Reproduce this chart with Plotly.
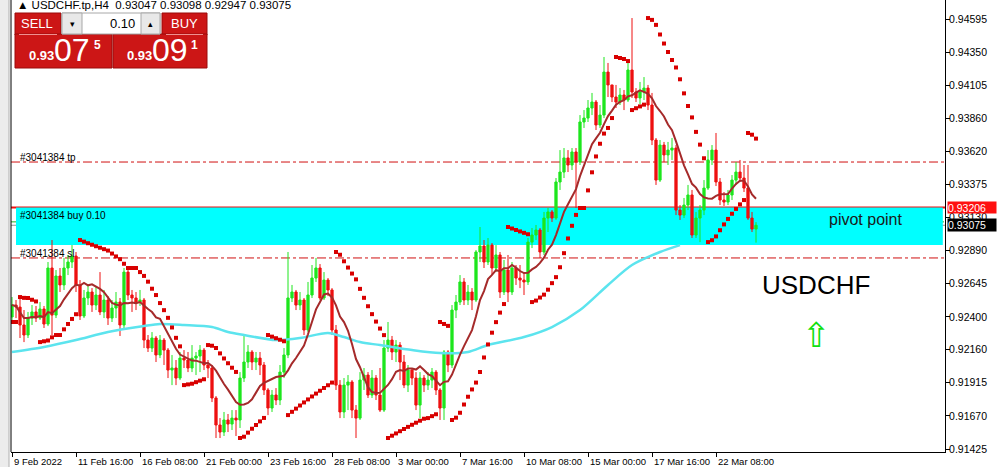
import plotly.graph_objects as go
import pandas as pd

# ---------------- data (USDCHF H4, bars from 9 Feb 2022 00:00) ----------------
bar_index = list(range(187))

opens = [
0.92399, 0.92487, 0.92472, 0.92340, 0.92266, 0.92391, 0.92436, 0.92391, 0.92458, 0.92347,
0.92760, 0.92413, 0.92701, 0.92635, 0.92760, 0.92804, 0.92848, 0.92635, 0.92406, 0.92539,
0.92583, 0.92487, 0.92561, 0.92436, 0.92524, 0.92391, 0.92465, 0.92509, 0.92340, 0.92730,
0.92561, 0.92539, 0.92509, 0.92524, 0.92229, 0.92170, 0.92244, 0.92119, 0.92229, 0.92155,
0.92008, 0.92023, 0.91949, 0.92096, 0.92082, 0.92023, 0.92096, 0.92111, 0.92155, 0.92045,
0.92023, 0.91802, 0.91603, 0.91551, 0.91640, 0.91610, 0.91654, 0.91640, 0.91949, 0.92067,
0.92141, 0.92067, 0.92096, 0.92045, 0.91861, 0.91728, 0.91824, 0.91787, 0.91993, 0.92119,
0.92539, 0.92583, 0.92487, 0.92524, 0.92303, 0.92561, 0.92686, 0.92760, 0.92539, 0.92671,
0.92598, 0.92303, 0.91897, 0.91699, 0.91897, 0.91920, 0.91713, 0.91654, 0.91934, 0.91971,
0.91824, 0.91949, 0.91824, 0.91713, 0.92170, 0.92229, 0.92141, 0.92192, 0.92067, 0.91897,
0.92008, 0.91949, 0.91750, 0.91949, 0.91897, 0.91934, 0.91993, 0.91861, 0.91728, 0.92141,
0.92045, 0.92450, 0.92509, 0.92657, 0.92524, 0.92583, 0.92524, 0.92878, 0.92922, 0.92804,
0.92929, 0.92760, 0.92856, 0.92583, 0.92745, 0.92583, 0.92760, 0.92686, 0.92671, 0.92657,
0.92951, 0.93003, 0.93040, 0.92878, 0.93128, 0.93173, 0.93128, 0.93394, 0.93467, 0.93571,
0.93519, 0.93615, 0.93541, 0.93836, 0.93865, 0.93939, 0.93983, 0.93814, 0.93887, 0.94204,
0.94109, 0.94020, 0.93983, 0.94035, 0.93998, 0.94219, 0.94057, 0.94013, 0.94057, 0.94086,
0.93961, 0.93703, 0.93408, 0.93666, 0.93593, 0.93629, 0.93644, 0.93187, 0.93150, 0.93224,
0.93298, 0.93003, 0.93128, 0.93187, 0.93349, 0.93556, 0.93629, 0.93394, 0.93261, 0.93246,
0.93298, 0.93408, 0.93467, 0.93423, 0.93349, 0.93128, 0.93047]

highs = [
0.92546, 0.92524, 0.92539, 0.92450, 0.92436, 0.92487, 0.92480, 0.92509, 0.92480, 0.92804,
0.92966, 0.92745, 0.92760, 0.92834, 0.92856, 0.92929, 0.92878, 0.92671, 0.92598, 0.92635,
0.92612, 0.92627, 0.92730, 0.92598, 0.92553, 0.92524, 0.92583, 0.92539, 0.92760, 0.92760,
0.92598, 0.92583, 0.92598, 0.92539, 0.92266, 0.92288, 0.92259, 0.92266, 0.92244, 0.92170,
0.92119, 0.92082, 0.92141, 0.92155, 0.92141, 0.92192, 0.92141, 0.92192, 0.92170, 0.92082,
0.92045, 0.91816, 0.91654, 0.91699, 0.91684, 0.91713, 0.91713, 0.91993, 0.92266, 0.92192,
0.92155, 0.92141, 0.92141, 0.92067, 0.91875, 0.91861, 0.91875, 0.92045, 0.92170, 0.92878,
0.92635, 0.92598, 0.92583, 0.92539, 0.92657, 0.92782, 0.92834, 0.92789, 0.92730, 0.92686,
0.92612, 0.92340, 0.91934, 0.91949, 0.91971, 0.91934, 0.91750, 0.91993, 0.92023, 0.91993,
0.92008, 0.91971, 0.92023, 0.92229, 0.92362, 0.92259, 0.92229, 0.92214, 0.92119, 0.92045,
0.92023, 0.91993, 0.91993, 0.91971, 0.91993, 0.92023, 0.92008, 0.91875, 0.92155, 0.92155,
0.92487, 0.92561, 0.92708, 0.92686, 0.92635, 0.92612, 0.92892, 0.93062, 0.92966, 0.92981,
0.92944, 0.92929, 0.92878, 0.92819, 0.92856, 0.92804, 0.92782, 0.92782, 0.92730, 0.92981,
0.93055, 0.93077, 0.93055, 0.93173, 0.93202, 0.93187, 0.93423, 0.93629, 0.93644, 0.93629,
0.93644, 0.93644, 0.93887, 0.93924, 0.93998, 0.94050, 0.93998, 0.93961, 0.94315, 0.94271,
0.94109, 0.94109, 0.94086, 0.94072, 0.94278, 0.94602, 0.94086, 0.94131, 0.94167, 0.94109,
0.94050, 0.93718, 0.93703, 0.93689, 0.93689, 0.93718, 0.93666, 0.93224, 0.93276, 0.93372,
0.93335, 0.93173, 0.93224, 0.93408, 0.93629, 0.93666, 0.93755, 0.93423, 0.93320, 0.93335,
0.93445, 0.93541, 0.93556, 0.93519, 0.93519, 0.93173, 0.93098]

lows = [
0.92362, 0.92391, 0.92244, 0.92214, 0.92244, 0.92340, 0.92362, 0.92377, 0.92318, 0.92332,
0.92266, 0.92391, 0.92583, 0.92598, 0.92708, 0.92760, 0.92583, 0.92377, 0.92391, 0.92487,
0.92436, 0.92450, 0.92413, 0.92391, 0.92340, 0.92362, 0.92391, 0.92259, 0.92303, 0.92524,
0.92436, 0.92450, 0.92480, 0.92170, 0.92141, 0.92141, 0.92067, 0.92096, 0.92045, 0.91949,
0.91897, 0.91897, 0.91934, 0.92023, 0.91993, 0.91993, 0.91971, 0.91993, 0.92008, 0.91949,
0.91772, 0.91507, 0.91507, 0.91522, 0.91551, 0.91566, 0.91522, 0.91581, 0.91920, 0.92023,
0.92008, 0.92008, 0.91971, 0.91824, 0.91676, 0.91699, 0.91750, 0.91750, 0.91949, 0.92096,
0.92509, 0.92450, 0.92450, 0.92266, 0.92288, 0.92539, 0.92657, 0.92524, 0.92524, 0.92553,
0.92266, 0.91861, 0.91654, 0.91654, 0.91713, 0.91654, 0.91507, 0.91640, 0.91861, 0.91802,
0.91802, 0.91787, 0.91699, 0.91699, 0.92141, 0.92082, 0.92067, 0.91934, 0.91875, 0.91846,
0.91897, 0.91713, 0.91654, 0.91846, 0.91861, 0.91875, 0.91824, 0.91640, 0.91640, 0.91993,
0.92023, 0.92391, 0.92487, 0.92487, 0.92487, 0.92450, 0.92509, 0.92804, 0.92760, 0.92782,
0.92708, 0.92730, 0.92539, 0.92561, 0.92509, 0.92561, 0.92635, 0.92612, 0.92561, 0.92635,
0.92907, 0.92966, 0.92834, 0.92856, 0.93025, 0.93099, 0.93114, 0.93335, 0.93423, 0.93467,
0.93482, 0.93202, 0.93519, 0.93792, 0.93836, 0.93887, 0.93777, 0.93792, 0.93865, 0.94020,
0.93983, 0.93939, 0.93961, 0.93924, 0.93983, 0.94013, 0.93983, 0.93969, 0.93998, 0.93924,
0.93666, 0.93372, 0.93394, 0.93541, 0.93519, 0.93556, 0.93150, 0.93114, 0.93128, 0.93187,
0.92981, 0.92981, 0.92951, 0.93150, 0.93335, 0.93519, 0.93364, 0.93224, 0.93217, 0.93224,
0.93261, 0.93372, 0.93394, 0.93320, 0.93114, 0.93025, 0.92947]

closes = [
0.92487, 0.92472, 0.92340, 0.92266, 0.92391, 0.92436, 0.92391, 0.92458, 0.92347, 0.92760,
0.92413, 0.92701, 0.92635, 0.92760, 0.92804, 0.92848, 0.92635, 0.92406, 0.92539, 0.92583,
0.92487, 0.92561, 0.92436, 0.92524, 0.92391, 0.92465, 0.92509, 0.92340, 0.92730, 0.92561,
0.92539, 0.92509, 0.92524, 0.92229, 0.92170, 0.92244, 0.92119, 0.92229, 0.92155, 0.92008,
0.92023, 0.91949, 0.92096, 0.92082, 0.92023, 0.92096, 0.92111, 0.92155, 0.92045, 0.92023,
0.91802, 0.91603, 0.91551, 0.91640, 0.91610, 0.91654, 0.91640, 0.91949, 0.92067, 0.92141,
0.92067, 0.92096, 0.92045, 0.91861, 0.91728, 0.91824, 0.91787, 0.91993, 0.92119, 0.92539,
0.92583, 0.92487, 0.92524, 0.92303, 0.92561, 0.92686, 0.92760, 0.92539, 0.92671, 0.92598,
0.92303, 0.91897, 0.91699, 0.91897, 0.91920, 0.91713, 0.91654, 0.91934, 0.91971, 0.91824,
0.91949, 0.91824, 0.91713, 0.92170, 0.92229, 0.92141, 0.92192, 0.92067, 0.91897, 0.92008,
0.91949, 0.91750, 0.91949, 0.91897, 0.91934, 0.91993, 0.91861, 0.91728, 0.92141, 0.92045,
0.92450, 0.92509, 0.92657, 0.92524, 0.92583, 0.92524, 0.92878, 0.92922, 0.92804, 0.92929,
0.92760, 0.92856, 0.92583, 0.92745, 0.92583, 0.92760, 0.92686, 0.92671, 0.92657, 0.92951,
0.93003, 0.93040, 0.92878, 0.93128, 0.93173, 0.93128, 0.93394, 0.93467, 0.93571, 0.93519,
0.93615, 0.93541, 0.93836, 0.93865, 0.93939, 0.93983, 0.93814, 0.93887, 0.94204, 0.94109,
0.94020, 0.93983, 0.94035, 0.93998, 0.94219, 0.94057, 0.94013, 0.94057, 0.94086, 0.93961,
0.93703, 0.93408, 0.93666, 0.93593, 0.93629, 0.93644, 0.93187, 0.93150, 0.93224, 0.93298,
0.93003, 0.93128, 0.93187, 0.93349, 0.93556, 0.93629, 0.93394, 0.93261, 0.93246, 0.93298,
0.93408, 0.93467, 0.93423, 0.93349, 0.93128, 0.93047, 0.93075]

# slow moving average (cyan), read at sample bars
cyan_bars = [0, 8, 16, 24, 33, 37, 43, 50, 54, 58, 66, 72, 79, 83, 87, 92, 100, 107,
             114, 119, 128, 135, 142, 149, 155, 162, 167]
cyan_vals = [0.92141, 0.92178, 0.92229, 0.92288, 0.92332, 0.92347, 0.92340, 0.92325,
             0.92288, 0.92266, 0.92229, 0.92244, 0.92281, 0.92251, 0.92214, 0.92192,
             0.92155, 0.92133, 0.92141, 0.92192, 0.92251, 0.92325, 0.92450, 0.92635,
             0.92782, 0.92878, 0.92929]

tick_bars = [0, 16, 32, 48, 64, 80, 96, 112, 128, 144, 160, 176]
tick_labels = ["9 Feb 2022", "11 Feb 16:00", "16 Feb 08:00", "21 Feb 00:00",
               "23 Feb 16:00", "28 Feb 08:00", "3 Mar 00:00", "7 Mar 16:00",
               "10 Mar 08:00", "15 Mar 00:00", "17 Mar 16:00", "22 Mar 08:00"]
price_ticks = [0.94595, 0.94350, 0.94105, 0.93860, 0.93620, 0.93375, 0.93130,
               0.92890, 0.92645, 0.92400, 0.92160, 0.91915, 0.91670, 0.91425]

tp_price = 0.93541
sl_price = 0.92834
buy_price = 0.93100
bid_price = 0.93075
pivot_line = 0.93206
zone_low = 0.92930
zone_bars = [1.0, 232.7]

# ---------------- indicators ----------------
ma_fast = pd.Series(closes).rolling(10, min_periods=1).mean().tolist()


def parabolic_sar(hi, lo, step=0.02, amax=0.2):
    n = len(hi)
    out = [0.0] * n
    bull = True
    af = step
    ep = hi[0]
    out[0] = lo[0]
    for i in range(1, n):
        prev = out[i - 1]
        s = prev + af * (ep - prev)
        if bull:
            s = min(s, lo[i - 1], lo[i - 2] if i >= 2 else lo[i - 1])
            if lo[i] < s:
                bull = False
                s = ep
                ep = lo[i]
                af = step
            elif hi[i] > ep:
                ep = hi[i]
                af = min(af + step, amax)
        else:
            s = max(s, hi[i - 1], hi[i - 2] if i >= 2 else hi[i - 1])
            if hi[i] > s:
                bull = True
                s = ep
                ep = hi[i]
                af = step
            elif lo[i] < ep:
                ep = lo[i]
                af = min(af + step, amax)
        out[i] = s
    return out


sar = parabolic_sar(highs, lows)

# ---------------- figure ----------------
W, H = 1000, 467
PL, PR, PT, PB = 11, 945, 0, 452


def pxx(x):
    return (x - PL) / (PR - PL)


def pxy(y):
    return (PB - y) / (PB - PT)


fig = go.Figure()

fig.add_trace(go.Scatter(x=cyan_bars, y=cyan_vals, mode="lines",
                         line=dict(color="#5ce4ee", width=2.5, shape="spline", smoothing=0.8),
                         hoverinfo="skip", showlegend=False))

fig.add_trace(go.Candlestick(
    x=bar_index, open=opens, high=highs, low=lows, close=closes,
    increasing=dict(line=dict(color="#1ee61e", width=1), fillcolor="#1ee61e"),
    decreasing=dict(line=dict(color="#ee1010", width=1), fillcolor="#ee1010"),
    whiskerwidth=0, showlegend=False, hoverinfo="skip"))

fig.add_trace(go.Scatter(x=bar_index, y=ma_fast, mode="lines",
                         line=dict(color="#a52a2a", width=2),
                         hoverinfo="skip", showlegend=False))

fig.add_trace(go.Scatter(x=bar_index, y=sar, mode="markers",
                         marker=dict(color="#d80000", size=4, symbol="square"),
                         hoverinfo="skip", showlegend=False))

shapes = []
# cyan zone
shapes.append(dict(type="rect", xref="x", yref="y", x0=zone_bars[0], x1=zone_bars[1],
                   y0=zone_low, y1=pivot_line, fillcolor="#00ffff", line=dict(width=0),
                   layer="below"))
# horizontal levels
shapes.append(dict(type="line", xref="paper", yref="y", x0=0, x1=1, y0=tp_price, y1=tp_price,
                   line=dict(color="#d01010", width=1, dash="dashdot"), layer="below"))
shapes.append(dict(type="line", xref="paper", yref="y", x0=0, x1=1, y0=sl_price, y1=sl_price,
                   line=dict(color="#d01010", width=1, dash="dashdot"), layer="below"))
shapes.append(dict(type="line", xref="paper", yref="y", x0=0, x1=1, y0=buy_price, y1=buy_price,
                   line=dict(color="#22b022", width=1, dash="dashdot"), layer="below"))
shapes.append(dict(type="line", xref="paper", yref="y", x0=0, x1=1, y0=bid_price, y1=bid_price,
                   line=dict(color="#909090", width=1), layer="below"))
shapes.append(dict(type="line", xref="paper", yref="y", x0=0, x1=1, y0=pivot_line, y1=pivot_line,
                   line=dict(color="#f01010", width=2), layer="below"))

# left window strip and chart border
shapes.append(dict(type="rect", xref="paper", yref="paper", x0=pxx(0), x1=pxx(9), y0=pxy(467),
                   y1=pxy(0), fillcolor="#ececec", line=dict(width=0), layer="above"))
shapes.append(dict(type="line", xref="paper", yref="paper", x0=pxx(9), x1=pxx(9), y0=pxy(467),
                   y1=pxy(0), line=dict(color="#b0b0b0", width=1), layer="above"))
shapes.append(dict(type="line", xref="paper", yref="paper", x0=pxx(11), x1=pxx(11), y0=0,
                   y1=1, line=dict(color="#000000", width=1), layer="above"))

# one-click trading panel
RED = "#cc1616"
BORDER = "#9a0a0a"


def box(x0, y0, x1, y1, fill, border):
    shapes.append(dict(type="rect", xref="paper", yref="paper", x0=pxx(x0), x1=pxx(x1),
                       y0=pxy(y1), y1=pxy(y0), fillcolor=fill,
                       line=dict(color=border, width=1), layer="above"))


box(15, 13, 61, 35, RED, BORDER)
box(15, 34, 112, 68, RED, BORDER)
box(162, 13, 207, 35, RED, BORDER)
box(113, 34, 207, 68, RED, BORDER)
box(62, 13, 160, 34, "#ffffff", "#a8a8a8")
box(62, 13, 82, 34, "#e8e8e8", "#a8a8a8")
box(141, 13, 160, 34, "#e8e8e8", "#a8a8a8")
shapes.append(dict(type="line", xref="paper", yref="paper", x0=pxx(19), x1=pxx(57),
                   y0=pxy(34.5), y1=pxy(34.5), line=dict(color="#f09090", width=1), layer="above"))
shapes.append(dict(type="line", xref="paper", yref="paper", x0=pxx(166), x1=pxx(203),
                   y0=pxy(34.5), y1=pxy(34.5), line=dict(color="#f09090", width=1), layer="above"))

ann = []
FONT = "Liberation Sans, Arial, sans-serif"


def ptext(x, y, text, size, color="#000000", anchor="center", bold=False, font=FONT):
    t = "<b>%s</b>" % text if bold else text
    ann.append(dict(xref="paper", yref="paper", x=pxx(x), y=pxy(y), text=t, showarrow=False,
                    xanchor=anchor, yanchor="middle", font=dict(family=font, size=size, color=color)))


ptext(15, 5, "\u25b2 USDCHF.tp,H4  0.93047 0.93098 0.92947 0.93075", 11.5, anchor="left")
ptext(37, 24, "SELL", 13, "#ffffff")
ptext(184, 24, "BUY", 13, "#ffffff")
ptext(72, 24, "\u25be", 9, "#000000")
ptext(150, 24, "\u25b4", 9, "#000000")
ptext(137, 23.5, "0.10", 13, "#000000", anchor="right")
ptext(41, 56, "0.93", 13, "#ffffff", bold=True)
ptext(72, 50, "07", 32, "#ffffff")
ptext(97, 45, "5", 12, "#ffffff", bold=True)
ptext(139, 56, "0.93", 13, "#ffffff", bold=True)
ptext(170, 50, "09", 32, "#ffffff")
ptext(194, 45, "1", 12, "#ffffff", bold=True)

# order labels
ptext(18, 157, "#3041384 tp", 10, "#000000", anchor="left")
ptext(18, 215, "#3041384 buy 0.10", 10, "#000000", anchor="left")
ptext(18, 253, "#3041384 sl", 10, "#000000", anchor="left")

# chart text objects
ptext(865, 219, "pivot point", 16, "#1a1a1a")
ptext(816, 285, "USDCHF", 26, "#000000")
ptext(816, 335, "\u21e7", 34, "#10e010", font="DejaVu Sans")

# time labels
for b, lab in zip(tick_bars, tick_labels):
    ann.append(dict(xref="x", yref="paper", x=b, y=0, yshift=-2, text=lab, showarrow=False,
                    xanchor="left", yanchor="top", xshift=0,
                    font=dict(family=FONT, size=9.5, color="#000000")))

# price boxes on the axis
ann.append(dict(xref="paper", yref="y", x=1, y=pivot_line, xanchor="left", yanchor="middle",
                xshift=2, text="0.93206", showarrow=False, bgcolor="#ff1010", borderpad=0,
                width=48, height=11, align="left",
                font=dict(family=FONT, size=10.5, color="#ffffff")))
ann.append(dict(xref="paper", yref="y", x=1, y=bid_price, xanchor="left", yanchor="middle",
                xshift=2, text="0.93075", showarrow=False, bgcolor="#000000", borderpad=0,
                width=48, height=12, align="left",
                font=dict(family=FONT, size=10.5, color="#ffffff")))

ymin = 0.91404
ymax = 0.94735

fig.update_layout(
    width=W, height=H,
    margin=dict(l=PL, r=W - PR, t=PT, b=H - PB, pad=0),
    paper_bgcolor="#ffffff", plot_bgcolor="#ffffff",
    shapes=shapes, annotations=ann, showlegend=False, boxgap=0.2,
    xaxis=dict(range=[-0.25, 233.25], showgrid=False, zeroline=False, showline=True,
               linecolor="#000000", linewidth=1, ticks="outside", ticklen=4,
               tickcolor="#000000", tickvals=tick_bars, showticklabels=False,
               rangeslider=dict(visible=False), fixedrange=True),
    yaxis=dict(range=[ymin, ymax], side="right", showgrid=False, zeroline=False,
               showline=True, linecolor="#000000", linewidth=1, ticks="outside",
               ticklen=4, tickcolor="#000000", tickvals=price_ticks,
               ticktext=["%.5f" % v for v in price_ticks], ticklabelstandoff=-3,
               tickfont=dict(family=FONT, size=10.5, color="#000000"), fixedrange=True),
)

fig.write_html("out.html", config={"displayModeBar": False},
               post_script="document.body.style.margin='0px';document.body.style.padding='0px';"
                           "document.body.style.overflow='hidden';")
